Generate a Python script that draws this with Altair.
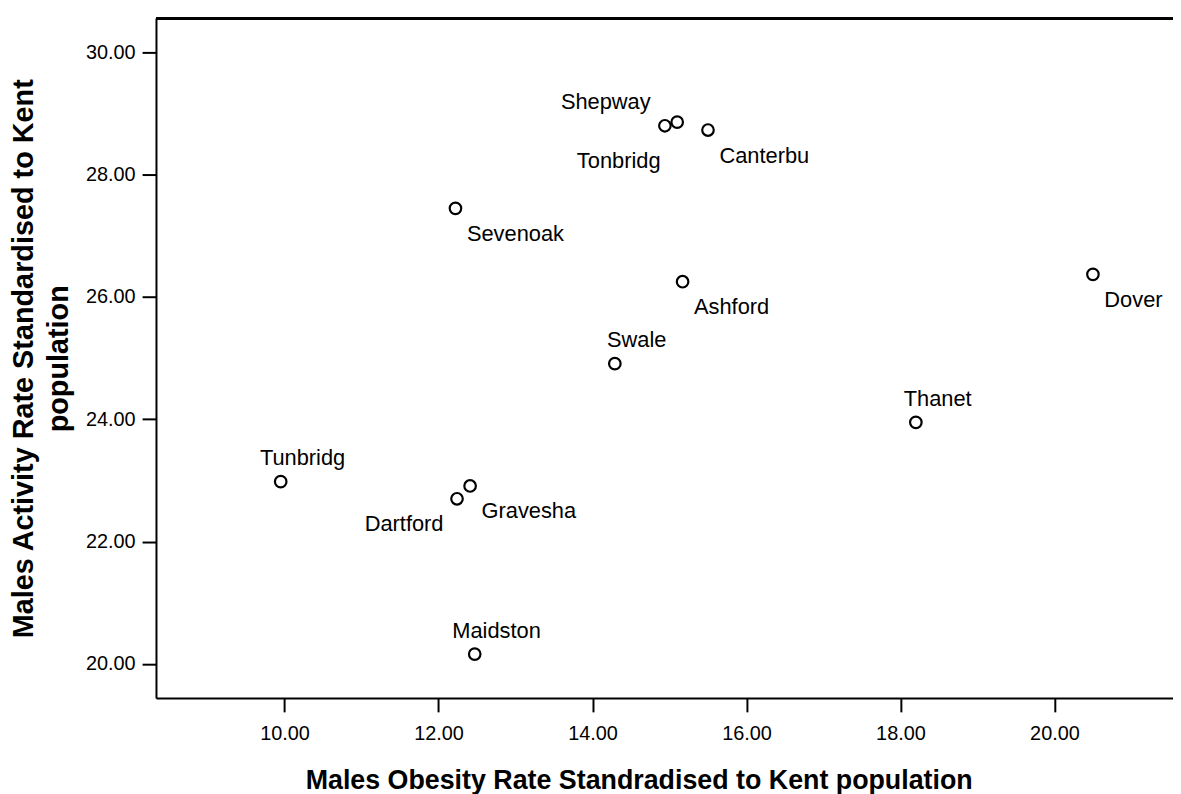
import altair as alt
import pandas as pd

# ---- data ----
names = ["Shepway", "Tonbridg", "Canterbu", "Sevenoak", "Ashford", "Dover",
         "Swale", "Thanet", "Tunbridg", "Gravesha", "Dartford", "Maidston"]
obesity = [14.94, 15.10, 15.50, 12.22, 15.17, 20.50,
           14.29, 18.20, 9.95, 12.41, 12.24, 12.47]
activity = [28.80, 28.86, 28.73, 27.45, 26.25, 26.37,
            24.91, 23.95, 22.98, 22.91, 22.70, 20.16]

x_ticks = [10, 12, 14, 16, 18, 20]
y_ticks = [20, 22, 24, 26, 28, 30]

x_title = "Males Obesity Rate Standradised to Kent population"
y_title = ["Males Activity Rate Standardised to Kent", "population"]

# label placement groups
above_center = ["Swale", "Thanet", "Tunbridg", "Maidston"]
below_right = ["Canterbu", "Sevenoak", "Ashford", "Dover", "Gravesha"]
below_left = ["Dartford"]
above_left = ["Shepway"]
far_below_left = ["Tonbridg"]

df = pd.DataFrame({"name": names, "obesity": obesity, "activity": activity})

FONT = "Liberation Sans"
W, H = 1024, 684

xenc = alt.X("obesity:Q",
             scale=alt.Scale(domain=[8.33, 21.54], nice=False, zero=False),
             axis=alt.Axis(values=x_ticks, format=".2f", title=x_title,
                           titleX=486, titleY=91, titleAlign="center",
                           titleBaseline="alphabetic", titleFontSize=27,
                           titleFontWeight="bold", titleFont=FONT,
                           labelFontSize=20, labelFont=FONT, labelColor="black",
                           labelPadding=12, tickSize=14, tickWidth=2,
                           tickColor="black", domainColor="black",
                           domainWidth=2, grid=False, titleColor="black"))
yenc = alt.Y("activity:Q",
             scale=alt.Scale(domain=[19.443, 30.552], nice=False, zero=False),
             axis=alt.Axis(values=y_ticks, format=".2f", title=y_title,
                           titleX=-124, titleY=342, titleAlign="center",
                           titleAngle=270, titleBaseline="alphabetic",
                           titleLineHeight=35, titleFontSize=29,
                           titleFontWeight="bold", titleFont=FONT,
                           labelFontSize=20, labelFont=FONT, labelColor="black",
                           labelPadding=7, tickSize=14, tickWidth=2,
                           tickColor="black", domainColor="black",
                           domainWidth=2, grid=False, titleColor="black"))

base = alt.Chart(df).encode(x=xenc, y=yenc)

points = base.mark_point(shape="circle", filled=False, stroke="black",
                         strokeWidth=2.2, size=135, opacity=1)


def labels(group, align, dx, dy):
    return base.transform_filter(
        alt.FieldOneOfPredicate(field="name", oneOf=group)
    ).mark_text(font=FONT, fontSize=22, color="black", align=align,
                baseline="alphabetic", dx=dx, dy=dy).encode(text="name:N")


frame_top = alt.Chart(df).mark_rule(color="black", strokeWidth=2).encode(
    x=alt.value(0), x2=alt.value(W), y=alt.value(0))

chart = alt.layer(
    points,
    labels(above_center, "center", 22, -16.5),
    labels(below_right, "left", 11.5, 32.7),
    labels(below_left, "right", -13.6, 32),
    labels(above_left, "right", -14.3, -17),
    labels(far_below_left, "right", -16.7, 46.4),
    frame_top,
).properties(
    width=W, height=H,
    padding={"left": 149, "top": 8, "right": 0, "bottom": 94},
    autosize=alt.AutoSizeParams(type="none"),
).configure_view(stroke=None, fill="#ececec").configure(background="white")

chart.save("out.html", embed_options={"renderer": "svg", "actions": False})
